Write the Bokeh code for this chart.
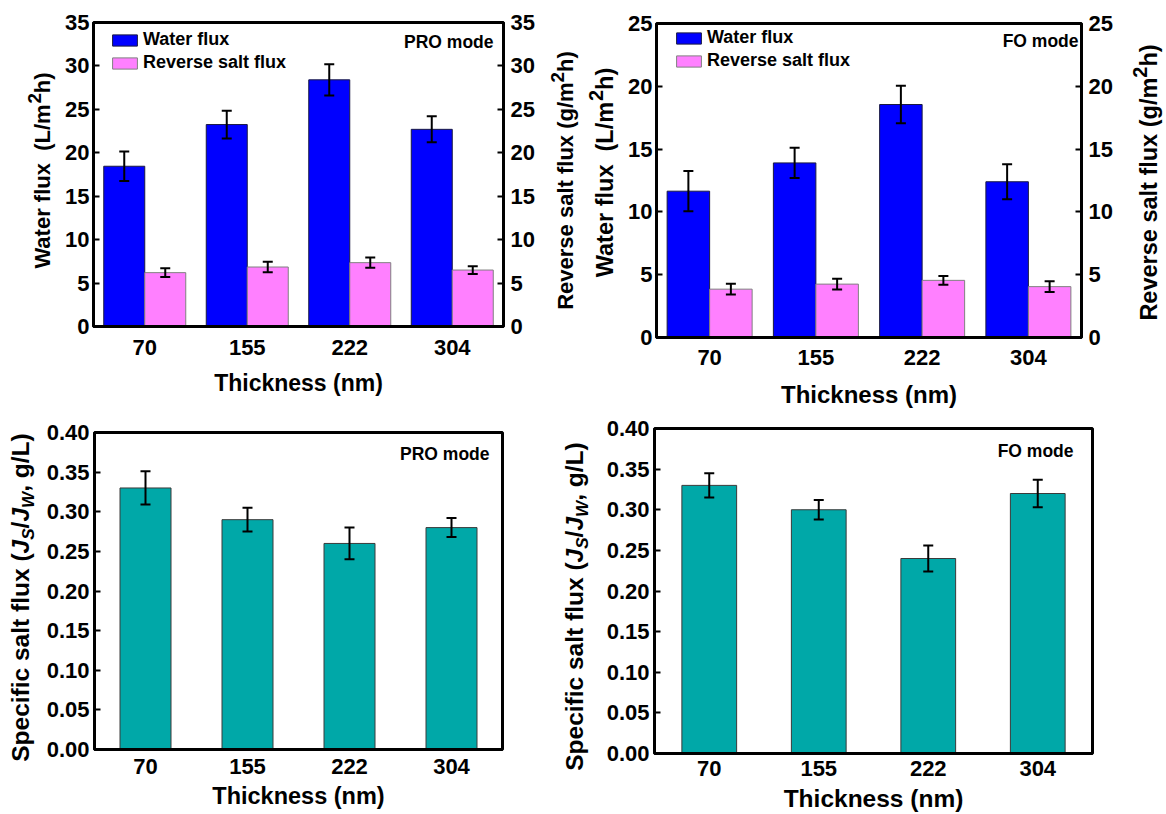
import math
from bokeh.plotting import figure
from bokeh.models import (FactorRange, Range1d, LinearAxis, ColumnDataSource, Whisker, TeeHead,
                          Label, Legend, LegendItem, FixedTicker, NumeralTickFormatter)
from bokeh.transform import dodge
from bokeh.layouts import column, row
from bokeh.embed import file_html
from bokeh.resources import INLINE

# ---------------- data ----------------
thickness = ["70", "155", "222", "304"]

pro_water = [18.45, 23.25, 28.40, 22.70]
pro_water_err = [1.7, 1.6, 1.8, 1.5]
pro_salt = [6.20, 6.85, 7.35, 6.50]
pro_salt_err = [0.50, 0.60, 0.60, 0.45]

fo_water = [11.65, 13.90, 18.55, 12.40]
fo_water_err = [1.6, 1.2, 1.5, 1.4]
fo_salt = [3.85, 4.25, 4.55, 4.05]
fo_salt_err = [0.43, 0.42, 0.35, 0.42]

pro_specific = [0.330, 0.290, 0.260, 0.280]
pro_specific_err = [0.021, 0.015, 0.020, 0.012]
fo_specific = [0.330, 0.300, 0.240, 0.320]
fo_specific_err = [0.015, 0.012, 0.016, 0.017]

flux_ticks_pro = [0, 5, 10, 15, 20, 25, 30, 35]
flux_ticks_fo = [0, 5, 10, 15, 20, 25]
spec_ticks = [0.0, 0.05, 0.10, 0.15, 0.20, 0.25, 0.30, 0.35, 0.40]

# ---------------- style ----------------
FONT = "Liberation Sans"
BLUE = "#0000FF"
PINK = "#FF80FF"
TEAL = "#00A8A8"

# Arial/Liberation Sans Bold advance widths (per 1000 em) for text layout
ADV = {" ": 278, "\u00a0": 278, "(": 333, ")": 333, "/": 278, ",": 278, "2": 556,
       "J": 556, "L": 611, "R": 722, "S": 667, "T": 611, "W": 944,
       "a": 556, "c": 556, "e": 556, "f": 333, "g": 611, "h": 611, "i": 278,
       "k": 556, "l": 278, "m": 889, "n": 611, "p": 611, "r": 389, "s": 556,
       "t": 333, "u": 611, "v": 556, "x": 556}


def text_w(t, size):
    return sum(ADV.get(c, 556) for c in t) / 1000.0 * size


def base_fig(w, h, bl, br, bt, bb, ymax):
    p = figure(width=w, height=h, x_range=FactorRange(factors=thickness),
               y_range=Range1d(0, ymax), output_backend="svg", toolbar_location=None,
               min_border_left=bl, min_border_right=br, min_border_top=bt,
               min_border_bottom=bb)
    p.frame_align = False
    p.grid.visible = False
    p.outline_line_color = "black"
    p.outline_line_width = 3
    p.outline_line_alpha = 1
    p.background_fill_color = "white"
    p.border_fill_color = "white"
    return p


def title_fig(w, h):
    f = figure(width=w, height=h, x_range=Range1d(0, 1), y_range=Range1d(0, 1),
               output_backend="svg", toolbar_location=None, min_border=0,
               x_axis_location=None, y_axis_location=None)
    f.frame_align = False
    f.grid.visible = False
    f.outline_line_color = None
    f.background_fill_color = "white"
    f.border_fill_color = "white"
    return f


def style_axis(ax, size):
    ax.axis_line_width = 3
    ax.axis_line_color = "black"
    ax.major_label_text_font = FONT
    ax.major_label_text_font_style = "bold"
    ax.major_label_text_font_size = f"{size}px"
    ax.major_label_text_color = "black"
    ax.minor_tick_line_color = None


def style_y(ax, size, ticks, standoff, fmt=None):
    style_axis(ax, size)
    ax.ticker = FixedTicker(ticks=ticks)
    ax.major_tick_in = 6
    ax.major_tick_out = 0
    ax.major_tick_line_width = 2
    ax.major_tick_line_color = "black"
    ax.major_label_standoff = standoff
    if fmt:
        ax.formatter = NumeralTickFormatter(format=fmt)


def style_x(ax, size, standoff, title_size, title_standoff):
    style_axis(ax, size)
    ax.major_tick_line_color = None
    ax.major_tick_in = 0
    ax.major_tick_out = 0
    ax.major_label_standoff = standoff
    ax.axis_label = "Thickness (nm)"
    ax.axis_label_text_font = FONT
    ax.axis_label_text_font_style = "bold"
    ax.axis_label_text_font_size = f"{title_size}px"
    ax.axis_label_text_color = "black"
    ax.axis_label_standoff = title_standoff


def vtitle(f, pieces, x, yc, size):
    """x is the wanted baseline position of the rotated title."""
    total = sum(text_w(t, size * sc) for t, sc, sh, st in pieces)
    y = yc - total / 2.0
    for t, sc, sh, st in pieces:
        ps = size * sc
        f.add_layout(Label(x=x - sh * size - 0.36 * ps, y=y, x_units="screen",
                           y_units="screen", text=t, angle=math.pi / 2, text_align="left",
                           text_baseline="alphabetic", text_font=FONT, text_font_style=st,
                           text_font_size=f"{ps:.1f}px", text_color="black"))
        y += text_w(t, ps)


def mode_label(p, text, x, y, size):
    p.add_layout(Label(x=x, y=y, x_units="screen", y_units="screen", text=text,
                       text_align="right", text_baseline="middle", text_font=FONT,
                       text_font_style="bold", text_font_size=f"{size}px",
                       text_color="black"))


def whisker(p, src, base, up, lo):
    p.add_layout(Whisker(base=base, upper=up, lower=lo, source=src, level="annotation",
                         line_color="black", line_width=2,
                         upper_head=TeeHead(size=10, line_width=2, line_color="black"),
                         lower_head=TeeHead(size=10, line_width=2, line_color="black")))


def flux_panel(w, h, bl, br, bt, bb, fw, fh, ymax, ticks, water, werr, salt, serr,
               mode, mode_dx, mode_dy, tick_size, title_size, xstand, xtstand, legend_xy,
               lstand, rstand):
    p = base_fig(w, h, bl, br, bt, bb, ymax)
    src = ColumnDataSource(dict(
        x=thickness, water=water, salt=salt,
        wlo=[v - e for v, e in zip(water, werr)], whi=[v + e for v, e in zip(water, werr)],
        slo=[v - e for v, e in zip(salt, serr)], shi=[v + e for v, e in zip(salt, serr)]))
    r1 = p.vbar(x=dodge("x", -0.2, range=p.x_range), top="water", width=0.4, source=src,
                fill_color=BLUE, line_color="#1a1a40", line_width=1)
    r2 = p.vbar(x=dodge("x", 0.2, range=p.x_range), top="salt", width=0.4, source=src,
                fill_color=PINK, line_color="#808080", line_width=1)
    whisker(p, src, dodge("x", -0.2, range=p.x_range), "whi", "wlo")
    whisker(p, src, dodge("x", 0.2, range=p.x_range), "shi", "slo")

    style_y(p.yaxis[0], tick_size, ticks, lstand)
    style_x(p.xaxis[0], tick_size, xstand, title_size, xtstand)
    rax = LinearAxis()
    style_y(rax, tick_size, ticks, rstand)
    p.add_layout(rax, "right")

    legend = Legend(items=[LegendItem(label="Water flux", renderers=[r1]),
                           LegendItem(label="Reverse salt flux", renderers=[r2])],
                    location=legend_xy, padding=0, margin=0, spacing=2,
                    glyph_width=31, glyph_height=14, label_height=20, label_standoff=3,
                    label_text_font=FONT, label_text_font_style="bold",
                    label_text_font_size="18px", label_text_color="black",
                    border_line_color=None, background_fill_alpha=0)
    p.add_layout(legend)
    mode_label(p, mode, fw - mode_dx, fh - mode_dy, 17.5)
    return p


def spec_panel(w, h, bl, br, bt, bb, fw, fh, vals, errs, mode, mode_dx, mode_dy,
               xstand, title_size, xtstand):
    p = base_fig(w, h, bl, br, bt, bb, 0.40)
    src = ColumnDataSource(dict(x=thickness, v=vals,
                                lo=[v - e for v, e in zip(vals, errs)],
                                hi=[v + e for v, e in zip(vals, errs)]))
    p.vbar(x="x", top="v", width=0.5, source=src, fill_color=TEAL,
           line_color="#3a3a3a", line_width=1)
    whisker(p, src, "x", "hi", "lo")
    style_y(p.yaxis[0], 22, spec_ticks, 5, "0.00")
    style_x(p.xaxis[0], 22, xstand, title_size, xtstand)
    mode_label(p, mode, fw - mode_dx, fh - mode_dy, 17.5)
    return p


WATER_T = [("Water flux\u00a0 (L/m", 1, 0, "bold"), ("2", 0.85, 0.42, "bold"),
           ("h)", 1, 0, "bold")]
SALT_T = [("Reverse salt flux (g/m", 1, 0, "bold"), ("2", 0.85, 0.42, "bold"),
          ("h)", 1, 0, "bold")]
SPEC_T = [("Specific salt flux (", 1, 0, "bold"), ("J", 1, 0, "bold italic"),
          ("S", 0.7, -0.2, "bold italic"), ("/", 1, 0, "bold"),
          ("J", 1, 0, "bold italic"), ("W", 0.7, -0.2, "bold italic"),
          (", g/L)", 1, 0, "bold")]

# ---------------- top row (height 410) ----------------
L1 = title_fig(58, 410)
vtitle(L1, WATER_T, 50, 240, 22)
p1 = flux_panel(480, 410, 35, 35, 22, 84, 410, 304, 35, flux_ticks_pro,
                pro_water, pro_water_err, pro_salt, pro_salt_err, "PRO mode", 10, 19,
                22, 23, 13, 12, (16, 253), 4, 7)
R1 = title_fig(42, 410)
vtitle(R1, SALT_T, 35, 230, 22)

L2 = title_fig(40, 410)
vtitle(L2, WATER_T, 33, 238, 23.5)
p2 = flux_panel(501, 410, 36, 40, 23, 72, 425, 315, 25, flux_ticks_fo,
                fo_water, fo_water_err, fo_salt, fo_salt_err, "FO mode", 3, 18,
                22, 24, 12, 13, (17, 266), 4, 7)
R2 = title_fig(45, 410)
vtitle(R2, SALT_T, 36, 228, 23.5)

# ---------------- bottom row (height 404) ----------------
L3 = title_fig(42, 404)
vtitle(L3, SPEC_T, 29, 217, 24.5)
p3 = spec_panel(518, 404, 52, 58, 22, 65, 408, 317, pro_specific, pro_specific_err,
                "PRO mode", 13, 21, 9, 23.5, 6)
L4 = title_fig(42, 404)
vtitle(L4, SPEC_T, 23, 208, 24.5)
p4 = spec_panel(564, 404, 52, 74, 18, 61, 438, 325, fo_specific, fo_specific_err,
                "FO mode", 19, 22, 7, 24.5, 6)

layout = column(row(L1, p1, R1, L2, p2, R2), row(L3, p3, L4, p4))
open("out.html", "w").write(file_html(layout, INLINE))
